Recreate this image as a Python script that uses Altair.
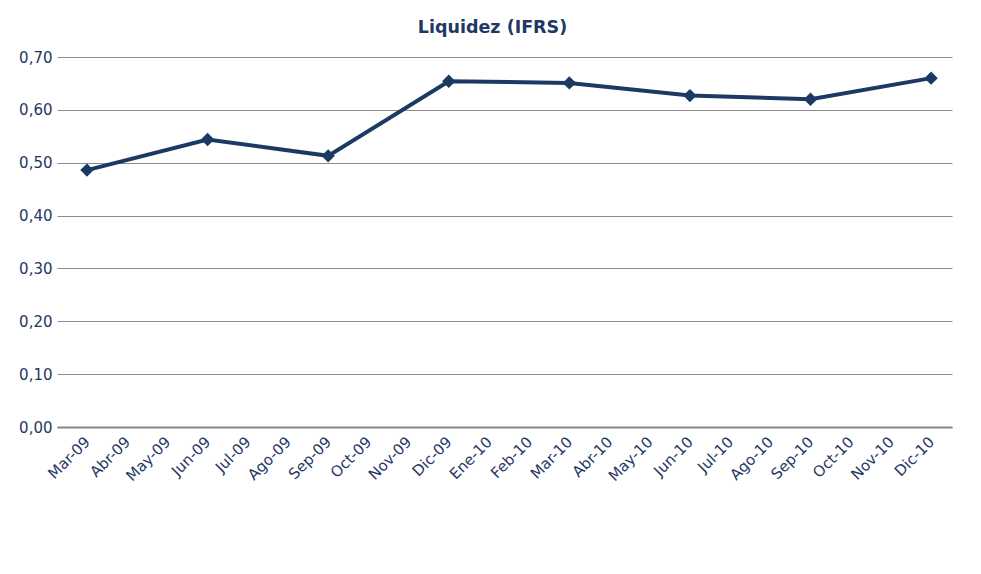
import altair as alt
import pandas as pd

months = ["Mar-09", "Abr-09", "May-09", "Jun-09", "Jul-09", "Ago-09", "Sep-09",
          "Oct-09", "Nov-09", "Dic-09", "Ene-10", "Feb-10", "Mar-10", "Abr-10",
          "May-10", "Jun-10", "Jul-10", "Ago-10", "Sep-10", "Oct-10", "Nov-10", "Dic-10"]
quarters = ["Mar-09", "Jun-09", "Sep-09", "Dic-09", "Mar-10", "Jun-10", "Sep-10", "Dic-10"]
liquidez = [0.486, 0.544, 0.513, 0.654, 0.651, 0.627, 0.620, 0.660]
y_ticks = [0.0, 0.1, 0.2, 0.3, 0.4, 0.5, 0.6, 0.7]

df = pd.DataFrame({
    "mes": quarters,
    "idx": [months.index(q) for q in quarters],
    "valor": liquidez,
})

label_expr = "[" + ",".join("'%s'" % m for m in months) + "][datum.value]"

TXT = "#1F3864"
LINE = "#1B3A63"
FONT = "DejaVu Sans"

base = alt.Chart(df).encode(
    x=alt.X("idx:Q",
            scale=alt.Scale(domain=[-0.746, 21.52], nice=False, zero=False),
            axis=alt.Axis(title=None, values=list(range(len(months))), labelExpr=label_expr,
                          labelAngle=-45, labelAlign="right", labelBaseline="middle",
                          labelFont=FONT, labelFontSize=15, labelColor=TXT, labelPadding=12,
                          ticks=False, domainColor="#868686", domainWidth=2, grid=False,
                          labelOverlap=False, labelFlush=False)),
    y=alt.Y("valor:Q", scale=alt.Scale(domain=[0, 0.7], nice=False),
            axis=alt.Axis(title=None, values=y_ticks,
                          labelExpr="replace(format(datum.value, '.2f'), '.', ',')",
                          labelFont=FONT, labelFontSize=15, labelColor=TXT, labelPadding=5,
                          ticks=False, domain=False, gridColor="#8C8C8C", gridWidth=1.2)),
)

line = base.mark_line(color=LINE, strokeWidth=4)
pts = base.mark_point(shape="diamond", filled=True, color=LINE, size=180, opacity=1)

chart = (line + pts).properties(
    width=895, height=370,
    autosize=alt.AutoSizeParams(type="none"),
    padding={"left": 49, "top": 49, "right": 21, "bottom": 139},
    title=alt.TitleParams("Liquidez (IFRS)", font=FONT, fontSize=17.5, fontWeight="bold",
                          color=TXT, anchor="middle", offset=14, dx=-12),
).configure_view(stroke=None)

chart.save("out.html", embed_options={"renderer": "svg", "actions": False})
